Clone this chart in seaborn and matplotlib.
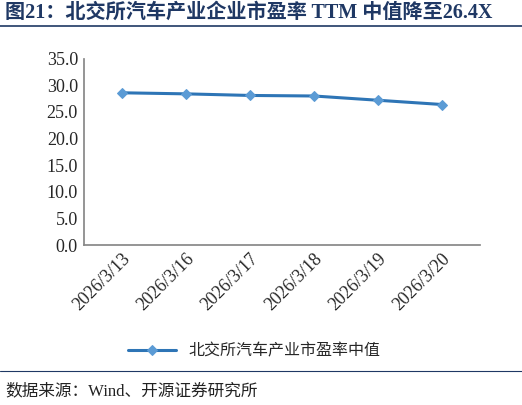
import matplotlib
matplotlib.use("Agg")
import matplotlib.pyplot as plt
import seaborn as sns
import pandas as pd

dates = ["2026/3/13", "2026/3/16", "2026/3/17", "2026/3/18", "2026/3/19", "2026/3/20"]
pe_median = [28.6, 28.4, 28.1, 28.0, 27.2, 26.4]
series_name = "北交所汽车产业市盈率中值"

sns.set_theme(style="white")
plt.rcParams['font.family'] = ['Liberation Serif', 'Noto Sans CJK SC']

df = pd.DataFrame({"date": dates, "pe": pe_median})

fig = plt.figure(figsize=(5.22, 4.05), dpi=100)
ax = fig.add_axes([0.16, 0.395, 0.76, 0.46])
sns.lineplot(data=df, x="date", y="pe", ax=ax, color="#2E75B6", lw=2.2,
             marker="D", markersize=5, markerfacecolor="#5B9BD5",
             markeredgecolor="#5B9BD5", label=series_name, sort=False)

ax.set_ylim(0, 35)
ax.set_yticks([0, 5, 10, 15, 20, 25, 30, 35])
ax.set_yticklabels([f"{v:.1f}" for v in range(0, 36, 5)], fontsize=13)
ax.set_xlim(-0.6, 5.6)
ax.set_xticks(range(len(dates)))
ax.set_xticklabels(dates, rotation=45, ha="right", rotation_mode="anchor", fontsize=13)
ax.set_xlabel("")
ax.set_ylabel("")
for s in ["top", "right"]:
    ax.spines[s].set_visible(False)
for s in ["left", "bottom"]:
    ax.spines[s].set_color("#888888")
ax.tick_params(axis="both", length=0, pad=4)

ax.legend(loc="upper center", bbox_to_anchor=(0.43, -0.45), frameon=False,
          fontsize=11.5, handlelength=3)

fig.text(0.01, 0.955, "图21：北交所汽车产业企业市盈率 TTM 中值降至26.4X",
         fontsize=14.5, fontweight="bold", color="#1F3864")
fig.add_artist(plt.Line2D([0.0, 1.0], [0.935, 0.935], color="#1F3864", lw=1.2))
fig.add_artist(plt.Line2D([0.0, 1.0], [0.085, 0.085], color="#1F3864", lw=0.8))
fig.text(0.01, 0.025, "数据来源：Wind、开源证券研究所", fontsize=12, color="#222222")

fig.savefig("out.png", dpi=100)
